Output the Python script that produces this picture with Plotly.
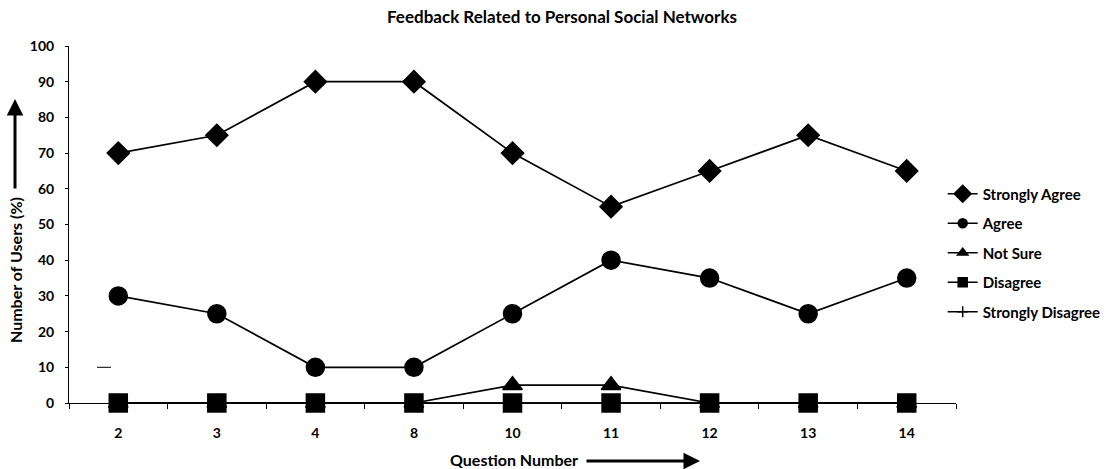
import plotly.graph_objects as go

questions = ["2", "3", "4", "8", "10", "11", "12", "13", "14"]
strongly_agree = [70, 75, 90, 90, 70, 55, 65, 75, 65]
agree = [30, 25, 10, 10, 25, 40, 35, 25, 35]
not_sure = [0, 0, 0, 0, 5, 5, 0, 0, 0]
disagree = [0, 0, 0, 0, 0, 0, 0, 0, 0]
strongly_disagree = [0, 0, 0, 0, 0, 0, 0, 0, 0]

FONT = "Lato"
L, R, T, B = 69, 158, 46, 66
W, H = 1114, 469
PW, PH = W - L - R, H - T - B


def px_x(p):
    return (p - L) / PW


def px_y(p):
    return (H - B - p) / PH


fig = go.Figure()
series = [
    ("Strongly Agree", strongly_agree, "diamond", 17, 13),
    ("Agree", agree, "circle", 18, 9),
    ("Not Sure", not_sure, "triangle-up", 17, 9),
    ("Disagree", disagree, "square", 18, 9),
    ("Strongly Disagree", strongly_disagree, "cross-thin", 8, 8),
]
for i, (name, vals, sym, sz, lsz) in enumerate(series):
    fig.add_trace(go.Scatter(
        x=questions, y=vals, name=name, mode="lines+markers",
        showlegend=False,
        line=dict(color="black", width=1.7),
        marker=dict(symbol=sym, size=sz, color="black",
                    line=dict(color="black", width=1.5)),
        cliponaxis=False,
    ))
    # legend entry with the smaller legend symbol
    fig.add_trace(go.Scatter(
        x=[None], y=[None], name=name, mode="lines+markers",
        legendgroup=f"g{i}", showlegend=True,
        line=dict(color="black", width=1.7),
        marker=dict(symbol=sym, size=lsz, color="black",
                    line=dict(color="black", width=1.5)),
    ))

fig.update_layout(
    width=W, height=H,
    margin=dict(l=L, r=R, t=T, b=B, autoexpand=False),
    paper_bgcolor="white", plot_bgcolor="white",
    font=dict(family=FONT, size=14, color="black"),
    title=dict(text="<b>Feedback Related to Personal Social Networks</b>",
               x=562 / W, xanchor="center", y=1 - 17 / H, yanchor="middle",
               font=dict(size=17)),
    showlegend=True,
    legend=dict(x=0.985, xanchor="left", y=px_y(253), yanchor="middle",
                font=dict(size=15, family=FONT, weight="bold"),
                tracegroupgap=7, itemwidth=30, bgcolor="rgba(0,0,0,0)",
                itemsizing="trace"),
    xaxis=dict(type="category", range=[-0.5, 8.5], showgrid=False,
               showline=True, linecolor="black", linewidth=1, ticks="outside",
               tickson="boundaries", ticklen=5, tickcolor="black",
               tickfont=dict(size=14, family=FONT, weight="bold"),
               ticklabelstandoff=17, zeroline=False, automargin=False),
    yaxis=dict(range=[0, 100], dtick=10, showgrid=False, showline=True,
               linecolor="black", linewidth=1, ticks="outside", ticklen=3,
               tickcolor="black",
               tickfont=dict(size=14, family=FONT, weight="bold"),
               ticklabelstandoff=8, zeroline=False, automargin=False),
)

# axis titles as annotations with their arrows
fig.add_annotation(xref="paper", yref="paper", x=px_x(15), y=px_y(270),
                   xanchor="center", yanchor="middle",
                   text="<b>Number of Users (%)</b>", textangle=-90,
                   showarrow=False, font=dict(size=16))
fig.add_annotation(xref="paper", yref="paper", x=px_x(15), y=px_y(99),
                   ax=0, ay=91, showarrow=True, arrowhead=2, arrowsize=1.1,
                   arrowwidth=3, arrowcolor="black", text="")
fig.add_annotation(xref="paper", yref="paper", x=px_x(514), y=px_y(460),
                   xanchor="center", yanchor="middle",
                   text="<b>Question Number</b>", showarrow=False,
                   font=dict(size=16))
fig.add_annotation(xref="paper", yref="paper", x=px_x(700), y=px_y(461),
                   ax=-115, ay=0, showarrow=True, arrowhead=2, arrowsize=1.1,
                   arrowwidth=3, arrowcolor="black", text="")
# small stray dash near the 10 label in the original
fig.add_shape(type="line", xref="paper", yref="y", x0=px_x(97), x1=px_x(111),
              y0=10, y1=10, line=dict(color="black", width=1))

fig.write_html("out.html", config={"displayModeBar": False},
               post_script="document.body.style.margin='0px';")
